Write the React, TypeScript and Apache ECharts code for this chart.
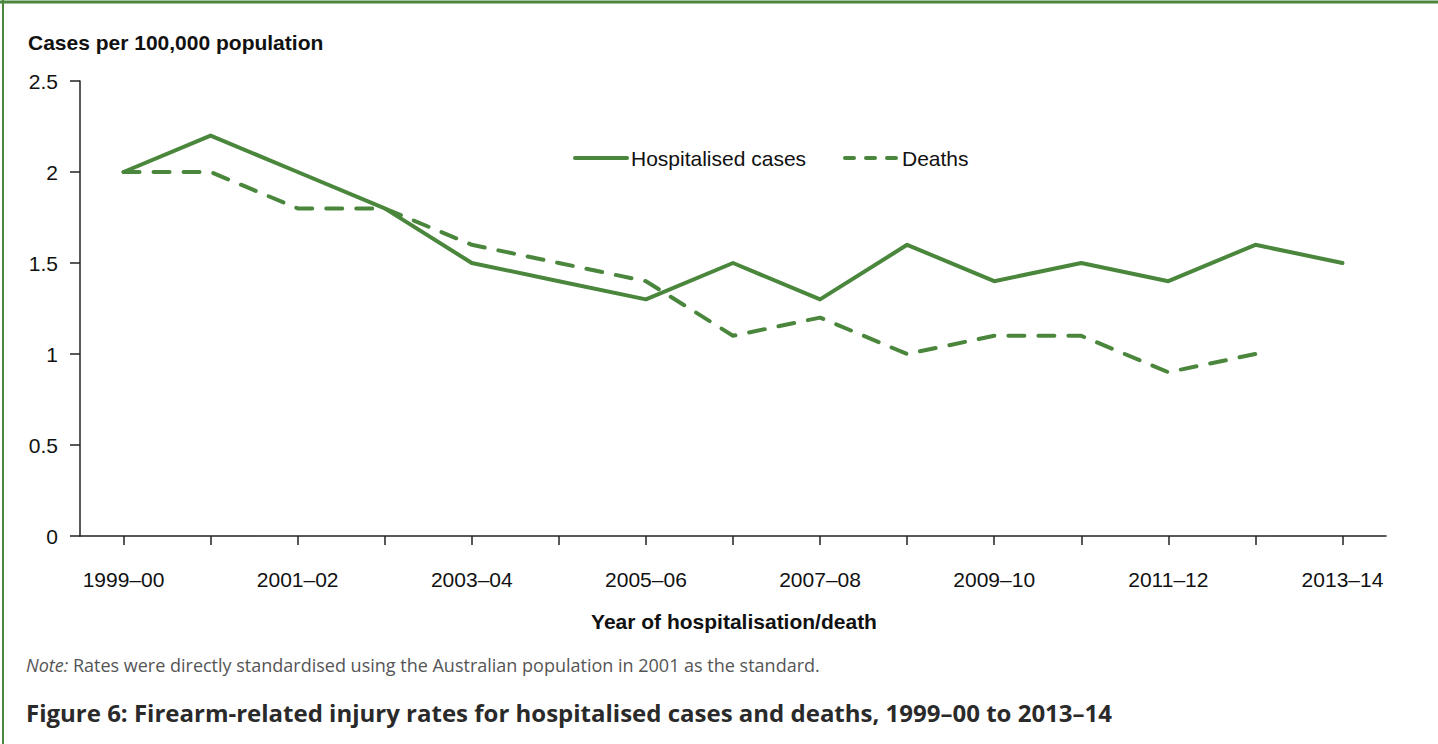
import React, { useEffect, useRef } from "react";
import * as echarts from "echarts";

const years = [
  "1999–00", "2000–01", "2001–02", "2002–03", "2003–04", "2004–05", "2005–06",
  "2006–07", "2007–08", "2008–09", "2009–10", "2010–11", "2011–12", "2012–13", "2013–14",
];
const hospitalised = [2.0, 2.2, 2.0, 1.8, 1.5, 1.4, 1.3, 1.5, 1.3, 1.6, 1.4, 1.5, 1.4, 1.6, 1.5];
const deaths = [2.0, 2.0, 1.8, 1.8, 1.6, 1.5, 1.4, 1.1, 1.2, 1.0, 1.1, 1.1, 0.9, 1.0, null];
const seriesNames = ["Hospitalised cases", "Deaths"];

const GREEN = "#4a873c";
const FONT = "'Liberation Sans', Arial, sans-serif";
const FS = 21;

export default function App() {
  const ref = useRef<HTMLDivElement>(null);
  useEffect(() => {
    const chart = echarts.init(ref.current!, undefined, { renderer: "svg" });
    chart.setOption({
      animation: false,
      backgroundColor: "#ffffff",
      textStyle: { fontFamily: FONT },
      grid: { left: 80, right: 52, top: 81, bottom: 208, containLabel: false },
      xAxis: {
        type: "category",
        data: years,
        boundaryGap: true,
        axisLine: { lineStyle: { color: "#222", width: 1.5 } },
        axisTick: { show: true, alignWithLabel: true, interval: 0, length: 9, lineStyle: { color: "#222", width: 1.5 } },
        axisLabel: { interval: 1, margin: 33, fontSize: FS, color: "#111", fontFamily: FONT },
        splitLine: { show: false },
      },
      yAxis: {
        type: "value",
        min: 0,
        max: 2.5,
        interval: 0.5,
        axisLine: { show: true, lineStyle: { color: "#222", width: 1.5 } },
        axisTick: { show: true, length: 10, lineStyle: { color: "#222", width: 1.5 } },
        axisLabel: { margin: 22, fontSize: FS, color: "#111", fontFamily: FONT, formatter: (v: number) => String(v) },
        splitLine: { show: false },
      },
      series: [
        {
          name: seriesNames[0],
          type: "line",
          data: hospitalised,
          symbol: "none",
          lineStyle: { color: GREEN, width: 4, cap: "round", join: "round" },
          itemStyle: { color: GREEN },
        },
        {
          name: seriesNames[1],
          type: "line",
          data: deaths,
          symbol: "none",
          connectNulls: false,
          lineStyle: { color: GREEN, width: 4, type: [16, 14], cap: "round", join: "round" },
          itemStyle: { color: GREEN },
        },
      ],
      graphic: [
        { type: "line", shape: { x1: 0, y1: 2, x2: 1438, y2: 2 }, style: { stroke: GREEN, lineWidth: 3 } },
        { type: "line", shape: { x1: 3, y1: 0, x2: 3, y2: 744 }, style: { stroke: GREEN, lineWidth: 2 } },
        // legend
        { type: "line", shape: { x1: 575, y1: 158, x2: 627, y2: 158 }, style: { stroke: GREEN, lineWidth: 4, lineCap: "round" } },
        {
          type: "text",
          x: 631,
          y: 158,
          style: { text: seriesNames[0], font: `${FS}px ${FONT}`, fill: "#111", verticalAlign: "middle" },
        },
        {
          type: "line",
          shape: { x1: 845, y1: 158, x2: 897, y2: 158 },
          style: { stroke: GREEN, lineWidth: 4, lineCap: "round", lineDash: [9, 12] },
        },
        {
          type: "text",
          x: 902,
          y: 158,
          style: { text: seriesNames[1], font: `${FS}px ${FONT}`, fill: "#111", verticalAlign: "middle" },
        },
        {
          type: "text",
          x: 28,
          y: 42,
          style: { text: "Cases per 100,000 population", font: `bold ${FS}px ${FONT}`, fill: "#111", verticalAlign: "middle" },
        },
        {
          type: "text",
          x: 734,
          y: 621,
          style: {
            text: "Year of hospitalisation/death",
            font: `bold ${FS}px ${FONT}`,
            fill: "#111",
            align: "center",
            verticalAlign: "middle",
          },
        },
        {
          type: "text",
          x: 26,
          y: 665,
          style: {
            text: "{i|Note:} Rates were directly standardised using the Australian population in 2001 as the standard.",
            font: "18px 'Open Sans', sans-serif",
            fill: "#555",
            verticalAlign: "middle",
            rich: {
              i: { fontStyle: "italic", fontSize: 18, fontFamily: "'Open Sans', sans-serif", fill: "#555" },
            },
          },
        },
        {
          type: "text",
          x: 26,
          y: 712,
          style: {
            text: "Figure 6: Firearm-related injury rates for hospitalised cases and deaths, 1999–00 to 2013–14",
            font: "bold 24px 'Open Sans', sans-serif",
            fill: "#2a2a2a",
            verticalAlign: "middle",
          },
        },
      ],
    });
    return () => chart.dispose();
  }, []);
  return (
    <div
      ref={ref}
      style={{ position: "fixed", left: 0, top: 0, width: 1438, height: 744, background: "#fff" }}
    />
  );
}
